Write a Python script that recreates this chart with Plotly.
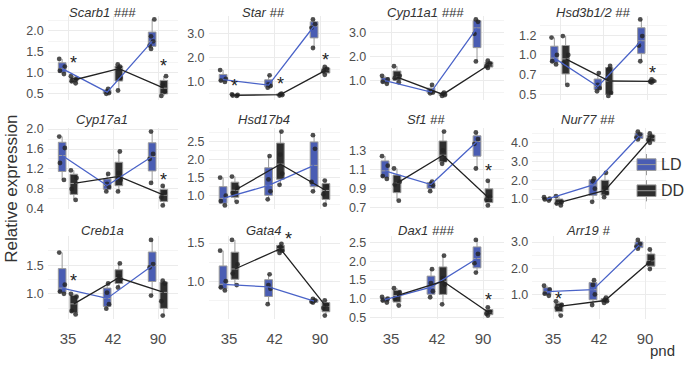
import numpy as np
import plotly.graph_objects as go

W, H = 685, 367

pnd = ["35", "42", "90"]
genes = ["Scarb1", "Star", "Cyp11a1", "Hsd3b1/2",
         "Cyp17a1", "Hsd17b4", "Sf1", "Nur77",
         "Creb1a", "Gata4", "Dax1", "Arr19"]
marks = ["###", "##", "###", "##", "", "", "##", "##", "", "", "###", "#"]

# --- relative expression per animal: [pnd35, pnd42, pnd90] ---
scarb1_ld = [[1.33, 1.15, 1.05, 0.97], [0.62, 0.56, 0.52, 0.50], [2.27, 1.87, 1.75, 1.65, 1.57]]
scarb1_dd = [[0.92, 0.86, 0.80, 0.75], [1.20, 1.15, 1.10, 0.88, 0.58], [0.92, 0.72, 0.55, 0.45]]
star_ld = [[1.47, 1.10, 1.03, 0.97], [1.25, 0.87, 0.80, 0.73], [3.60, 3.40, 3.25, 2.40]]
star_dd = [[0.45, 0.42, 0.40, 0.38], [0.48, 0.45, 0.42, 0.40], [1.60, 1.52, 1.42, 1.27]]
cyp11a1_ld = [[1.20, 1.05, 0.95, 0.87], [0.82, 0.55, 0.50, 0.47], [3.55, 3.45, 2.95, 1.80]]
cyp11a1_dd = [[1.60, 1.20, 1.10, 0.93], [0.50, 0.45, 0.40, 0.36], [1.83, 1.72, 1.60, 1.53]]
hsd3b_ld = [[1.22, 1.00, 0.92, 0.88], [0.77, 0.62, 0.58, 0.54], [1.45, 1.24, 1.12, 0.92]]
hsd3b_dd = [[1.24, 1.00, 0.90, 0.62], [0.86, 0.82, 0.52, 0.48], [0.69, 0.67, 0.66, 0.65]]
cyp17a1_ld = [[1.85, 1.62, 1.32, 0.98], [1.10, 0.90, 0.84, 0.75], [1.95, 1.50, 1.40, 0.92]]
cyp17a1_dd = [[1.17, 1.02, 0.80, 0.58], [1.55, 1.12, 0.98, 0.75], [0.86, 0.72, 0.63, 0.47]]
hsd17b4_ld = [[1.50, 1.00, 0.85, 0.73], [2.10, 1.45, 1.12, 0.90], [2.68, 2.30, 1.38, 1.12]]
hsd17b4_dd = [[1.53, 1.22, 1.08, 0.83], [2.78, 2.14, 1.61, 1.30], [1.42, 1.25, 1.04, 0.75]]
sf1_ld = [[1.24, 1.14, 1.03, 1.00], [0.97, 0.95, 0.93, 0.87], [1.49, 1.42, 1.37, 1.11]]
sf1_dd = [[1.11, 0.97, 0.94, 0.77], [1.50, 1.30, 1.20, 1.16], [0.98, 0.81, 0.78, 0.72]]
nur77_ld = [[1.10, 1.02, 0.98, 0.92], [2.10, 1.95, 1.55, 0.85], [4.60, 4.45, 4.28, 4.18]]
nur77_dd = [[1.15, 0.85, 0.76, 0.66], [2.40, 1.60, 1.32, 1.10], [4.50, 4.33, 4.15, 4.00]]
creb1a_ld = [[1.72, 1.16, 1.04, 1.00], [1.18, 1.02, 0.82, 0.74], [1.94, 1.52, 1.46, 0.97]]
creb1a_dd = [[1.00, 0.95, 0.70, 0.64], [1.53, 1.31, 1.25, 1.11], [1.23, 1.18, 0.87, 0.62]]
gata4_ld = [[1.40, 1.00, 0.92, 0.88], [1.09, 0.95, 0.90, 0.70], [0.77, 0.75, 0.73, 0.72]]
gata4_dd = [[1.54, 1.22, 1.10, 0.95], [1.49, 1.45, 1.40, 1.37], [0.75, 0.69, 0.65, 0.55]]
dax1_ld = [[1.05, 1.00, 0.95, 0.90], [1.79, 1.42, 1.20, 1.04], [2.57, 2.20, 1.95, 1.70]]
dax1_dd = [[1.28, 1.17, 1.00, 0.82], [2.15, 1.55, 1.38, 0.85], [0.77, 0.65, 0.60, 0.55]]
arr19_ld = [[1.35, 1.20, 1.05, 0.97], [1.56, 1.38, 1.02, 0.62], [3.08, 2.93, 2.83, 2.75]]
arr19_dd = [[0.76, 0.62, 0.52, 0.22], [0.90, 0.82, 0.76, 0.70], [2.72, 2.38, 2.20, 1.98]]

ld_data = [scarb1_ld, star_ld, cyp11a1_ld, hsd3b_ld, cyp17a1_ld, hsd17b4_ld,
           sf1_ld, nur77_ld, creb1a_ld, gata4_ld, dax1_ld, arr19_ld]
dd_data = [scarb1_dd, star_dd, cyp11a1_dd, hsd3b_dd, cyp17a1_dd, hsd17b4_dd,
           sf1_dd, nur77_dd, creb1a_dd, gata4_dd, dax1_dd, arr19_dd]

# y tick values / labels per panel
y_tickvals = [[0.5, 1.0, 1.5, 2.0], [1, 2, 3], [1, 2, 3], [0.5, 0.75, 1.0, 1.25],
              [0.4, 0.8, 1.2, 1.6, 2.0], [1.0, 1.5, 2.0, 2.5], [0.7, 0.9, 1.1, 1.3], [1, 2, 3, 4],
              [0.5, 1.0, 1.5], [0.5, 1.0, 1.5], [0.5, 1.0, 1.5, 2.0, 2.5], [1, 2, 3]]
y_ticktext = [["0.5", "1.0", "1.5", "2.0"], ["1.0", "2.0", "3.0"], ["1.0", "2.0", "3.0"],
              ["0.5", "0.7", "1.0", "1.2"], ["0.4", "0.8", "1.2", "1.6", "2.0"],
              ["1.0", "1.5", "2.0", "2.5"], ["0.7", "0.9", "1.1", "1.3"],
              ["1.0", "2.0", "3.0", "4.0"], ["0.5", "1.0", "1.5"], ["0.5", "1.0", "1.5"],
              ["0.5", "1.0", "1.5", "2.0", "2.5"], ["1.0", "2.0", "3.0"]]

# significance stars: (panel, pnd index, group, y)
stars = [(0, 0, "DD", 1.29), (0, 2, "DD", 1.22),
         (1, 0, "DD", 0.88), (1, 1, "DD", 0.96), (1, 2, "DD", 1.97),
         (3, 2, "DD", 0.80),
         (4, 2, "DD", 1.02),
         (6, 2, "DD", 1.10),
         (8, 0, "DD", 1.26),
         (9, 1, "DD", 1.58),
         (10, 2, "DD", 1.01),
         (11, 0, "DD", 0.91)]
star_xshift = {9: 8}

LD_FILL = "#4a5db3"
DD_FILL = "#2e2e2e"
LD_LINE = "#4a63c8"
DD_LINE = "#222222"
GRID = "#ebebeb"
TXT = "#4d4d4d"
FONT = "Liberation Sans, Arial, sans-serif"

# panel geometry (pixels)
col_c = [(68, 158), (229, 320), (391, 483), (553, 645)]
row_y = [(11, 98), (127, 211), (239, 325)]
override = {3: (560, 647)}
XR = [0.55, 3.45]
DODGE = 0.13

fig = go.Figure()
layout = dict(width=W, height=H, margin=dict(l=0, r=0, t=0, b=0), autosize=False,
              paper_bgcolor="white", plot_bgcolor="white", showlegend=False,
              boxmode="overlay", font=dict(family=FONT, color=TXT))
annotations = []
shapes = []

for k, gene in enumerate(genes):
    r, c = divmod(k, 4)
    c1, c3 = override.get(k, col_c[c])
    ppu = (c3 - c1) / 2
    left = c1 - (1 - XR[0]) * ppu
    right = c3 + (XR[1] - 3) * ppu
    top, bot = row_y[r]
    sfx = "" if k == 0 else str(k + 1)
    xa, ya = "x" + sfx, "y" + sfx

    allv = [v for g in ld_data[k] + dd_data[k] for v in g]
    lo, hi = min(allv), max(allv)
    pad = 0.05 * (hi - lo)
    yr = [lo - pad, hi + pad]

    tv = y_tickvals[k]
    step = tv[1] - tv[0]
    minors = [t + step / 2 for t in [tv[0] - step] + tv]
    minors = [m for m in minors if yr[0] <= m <= yr[1]]

    layout["xaxis" + sfx] = dict(domain=[left / W, right / W], range=XR, anchor=ya,
                                 tickvals=[1, 2, 3], ticktext=pnd, showticklabels=(r == 2),
                                 tickfont=dict(size=15, color=TXT), showgrid=True,
                                 gridcolor=GRID, gridwidth=1, zeroline=False, showline=False,
                                 ticks="", ticklen=0, ticklabelstandoff=9)
    layout["yaxis" + sfx] = dict(domain=[1 - bot / H, 1 - top / H], range=yr, anchor=xa,
                                 tickvals=tv, ticktext=y_ticktext[k],
                                 tickfont=dict(size=12.5, color=TXT), showgrid=True,
                                 gridcolor=GRID, gridwidth=1, zeroline=False, showline=False,
                                 ticks="", ticklen=0, ticklabelstandoff=3,
                                 minor=dict(tickvals=minors, showgrid=True, gridcolor="#f4f4f4",
                                            gridwidth=0.6))

    for grp, data, fill, lc, off in (("LD", ld_data[k], LD_FILL, LD_LINE, -DODGE),
                                      ("DD", dd_data[k], DD_FILL, DD_LINE, DODGE)):
        xs, ys = [], []
        for i, vals in enumerate(data):
            xs += [i + 1 + off] * len(vals)
            ys += vals
        fig.add_trace(go.Box(x=xs, y=ys, xaxis=xa, yaxis=ya, width=0.17,
                             fillcolor=fill, line=dict(color="#9a9a9a", width=1),
                             whiskerwidth=0,
                             boxpoints="all", jitter=0.9, pointpos=0,
                             marker=dict(color="rgba(35,35,35,0.8)", size=4.8),
                             quartilemethod="linear", showlegend=False, hoverinfo="skip"))
        meds = [float(np.median(v)) for v in data]
        fig.add_trace(go.Scatter(x=[i + 1 + off for i in range(3)], y=meds, xaxis=xa, yaxis=ya,
                                 mode="lines", line=dict(color=lc, width=1.3),
                                 showlegend=False, hoverinfo="skip"))

    title = f"<i>{gene} {marks[k]}</i>" if marks[k] else f"<i>{gene}</i>"
    ty = [8, 118, 233][r]
    annotations.append(dict(text=title, x=(left - 22 + right) / 2 / W, y=1 - ty / H,
                            xref="paper", yref="paper", showarrow=False,
                            xanchor="center", yanchor="middle",
                            font=dict(size=13, color="#333333", family=FONT)))

for (k, i, grp, yv) in stars:
    sfx = "" if k == 0 else str(k + 1)
    off = DODGE if grp == "DD" else -DODGE
    annotations.append(dict(text="*", x=i + 1 + off, y=yv, xref="x" + sfx, yref="y" + sfx,
                            showarrow=False, xanchor="center", yanchor="middle", yshift=-2,
                            xshift=star_xshift.get(k, 0),
                            font=dict(size=18, color="#222222", family=FONT)))

annotations.append(dict(text="Relative expression", x=12 / W, y=1 - 190 / H,
                        xref="paper", yref="paper", showarrow=False, textangle=-90,
                        xanchor="center", yanchor="middle",
                        font=dict(size=17, color="#333333", family=FONT)))
annotations.append(dict(text="pnd", x=662 / W, y=1 - 357 / H, xref="paper", yref="paper",
                        showarrow=False, xanchor="center", yanchor="middle",
                        font=dict(size=15, color="#333333", family=FONT)))

# legend (drawn manually)
for lab, fill, cy in (("LD", LD_FILL, 165), ("DD", DD_FILL, 192)):
    x0, x1 = 637, 656
    shapes.append(dict(type="line", xref="paper", yref="paper", x0=(x0 + x1) / 2 / W,
                       x1=(x0 + x1) / 2 / W, y0=1 - (cy - 11) / H, y1=1 - (cy + 11) / H,
                       line=dict(color="#9a9a9a", width=1)))
    shapes.append(dict(type="rect", xref="paper", yref="paper", x0=x0 / W, x1=x1 / W,
                       y0=1 - (cy - 6) / H, y1=1 - (cy + 6) / H, fillcolor=fill,
                       line=dict(color="#9a9a9a", width=1)))
    shapes.append(dict(type="line", xref="paper", yref="paper", x0=x0 / W, x1=x1 / W,
                       y0=1 - cy / H, y1=1 - cy / H, line=dict(color="#9a9a9a", width=1)))
    annotations.append(dict(text=lab, x=659 / W, y=1 - cy / H, xref="paper", yref="paper",
                            showarrow=False, xanchor="left", yanchor="middle",
                            font=dict(size=16, color="#333333", family=FONT)))

layout["annotations"] = annotations
layout["shapes"] = shapes
fig.update_layout(**layout)
fig.write_html("out.html", config={"displayModeBar": False},
               post_script=["document.body.style.margin='0px';"])
